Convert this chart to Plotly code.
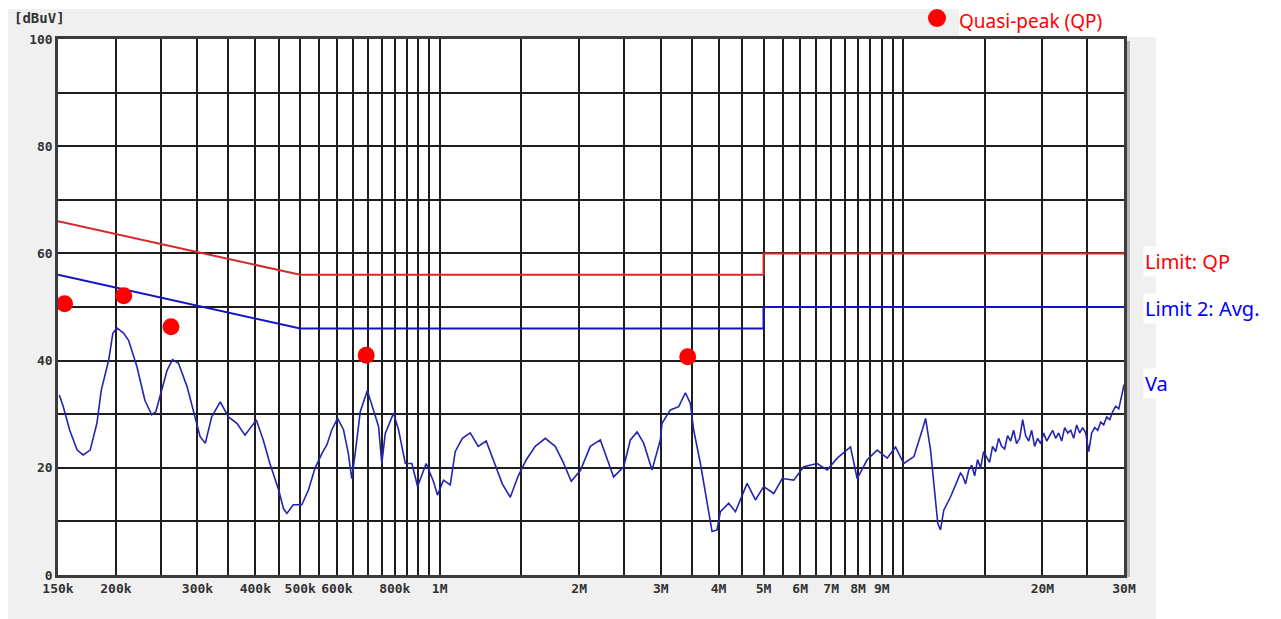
import math
import plotly.graph_objects as go

# ---------------- data (frequencies in MHz, levels in dBuV) ----------------
va_freq = [0.151, 0.154, 0.159, 0.165, 0.170, 0.176, 0.182, 0.186, 0.193, 0.197,
           0.201, 0.208, 0.213, 0.222, 0.231, 0.239, 0.244, 0.251, 0.258, 0.265,
           0.273, 0.285, 0.296, 0.304, 0.312, 0.322, 0.336, 0.350, 0.365, 0.380,
           0.390, 0.402, 0.416, 0.430, 0.449, 0.460, 0.468, 0.483, 0.504, 0.521,
           0.538, 0.557, 0.571, 0.585, 0.602, 0.620, 0.635, 0.646, 0.657, 0.674,
           0.698, 0.720, 0.738, 0.750, 0.763, 0.795, 0.815, 0.843, 0.871, 0.896,
           0.935, 0.970, 0.989, 1.019, 1.054, 1.080, 1.119, 1.164, 1.211, 1.260,
           1.311, 1.365, 1.420, 1.478, 1.538, 1.608, 1.690, 1.776, 1.848, 1.923,
           2.012, 2.114, 2.222, 2.374, 2.495, 2.580, 2.667, 2.756, 2.873, 2.994,
           3.019, 3.147, 3.280, 3.391, 3.476, 3.533, 3.654, 3.777, 3.872, 3.969,
           4.035, 4.206, 4.349, 4.609, 4.803, 5.005, 5.261, 5.487, 5.811, 6.108,
           6.529, 6.862, 7.212, 7.704, 7.964, 8.370, 8.798, 9.245, 9.638, 10.04,
           10.56, 11.01, 11.19, 11.47, 11.66, 11.89, 12.05, 12.25, 12.67, 13.31,
           13.45, 13.65, 13.86, 14.07, 14.28, 14.49, 14.71, 14.93, 15.16, 15.38,
           15.61, 15.85, 16.09, 16.33, 16.57, 16.82, 17.08, 17.33, 17.59, 17.86,
           18.13, 18.40, 18.68, 18.96, 19.24, 19.53, 19.83, 20.12, 20.43, 20.73,
           21.04, 21.36, 21.68, 22.01, 22.34, 22.68, 23.02, 23.36, 23.71, 24.07,
           24.43, 24.80, 25.17, 25.55, 25.94, 26.33, 26.72, 27.12, 27.53, 27.95,
           28.37, 28.79, 29.23, 29.67, 30.0]
va_level = [33.6, 31.4, 27.0, 23.3, 22.4, 23.3, 28.3, 34.5, 40.1, 45.1,
            46.1, 45.1, 43.8, 38.9, 32.6, 29.9, 30.5, 34.5, 38.2, 40.2,
            39.5, 35.1, 29.5, 25.8, 24.6, 29.5, 32.3, 29.5, 28.3, 26.1,
            27.4, 28.9, 25.2, 20.8, 15.9, 12.4, 11.5, 13.1, 13.1, 15.9,
            19.9, 22.7, 24.3, 27.1, 29.2, 27.1, 22.7, 18.0, 22.7, 30.5,
            34.4, 30.8, 27.7, 20.8, 26.4, 30.2, 27.1, 20.8, 20.8, 16.5,
            20.8, 17.4, 14.9, 17.7, 16.8, 23.0, 25.5, 26.5, 24.0, 25.0,
            21.0, 17.0, 14.5, 18.5, 21.5, 24.0, 25.5, 24.0, 21.0, 17.5,
            19.5, 24.0, 25.2, 18.3, 20.2, 25.2, 26.7, 24.6, 19.6, 25.2,
            28.3, 30.8, 31.4, 34.0, 32.0, 27.1, 20.8, 13.4, 8.1, 8.4,
            11.8, 13.4, 11.8, 17.1, 14.0, 16.5, 15.2, 18.0, 17.7, 20.2,
            20.8, 19.6, 21.8, 23.9, 18.0, 21.5, 23.3, 21.8, 23.9, 20.8,
            22.1, 27.1, 29.2, 23.3, 16.5, 9.6, 8.4, 12.1, 14.6, 19.0,
            18.5, 17.0, 19.5, 20.5, 18.5, 21.5, 20.0, 23.0, 22.0, 21.0,
            24.0, 23.0, 25.5, 24.0, 23.5, 26.0, 25.0, 27.0, 24.5, 25.5,
            29.0, 26.0, 25.0, 27.0, 24.0, 25.5, 24.5, 26.5, 25.0, 26.0,
            27.0, 25.5, 26.5, 25.0, 27.5, 26.5, 27.0, 25.5, 28.0, 26.5,
            27.5, 26.5, 23.0, 26.5, 27.5, 27.0, 28.5, 28.0, 29.5, 29.0,
            30.5, 31.5, 31.0, 33.5, 35.5]

qp_limit_freq = [0.15, 0.5, 0.5, 5.0, 5.0, 30.0]
qp_limit_level = [66, 56, 56, 56, 60, 60]
avg_limit_freq = [0.15, 0.5, 0.5, 5.0, 5.0, 30.0]
avg_limit_level = [56, 46, 46, 46, 50, 50]

qp_freq = [0.155, 0.208, 0.263, 0.694, 3.43]
qp_level = [50.6, 52.1, 46.3, 41.0, 40.7]

x_grid = [0.15, 0.2, 0.25, 0.3, 0.35, 0.4, 0.45, 0.5, 0.55, 0.6, 0.65, 0.7,
          0.75, 0.8, 0.85, 0.9, 0.95, 1.0, 1.5, 2.0, 2.5, 3.0, 3.5, 4.0, 4.5,
          5.0, 5.5, 6.0, 6.5, 7.0, 7.5, 8.0, 8.5, 9.0, 9.5, 10.0, 15.0, 20.0,
          25.0, 30.0]
x_labels = {0.15: "150k", 0.2: "200k", 0.3: "300k", 0.4: "400k", 0.5: "500k",
            0.6: "600k", 0.8: "800k", 1.0: "1M", 2.0: "2M", 3.0: "3M", 4.0: "4M",
            5.0: "5M", 6.0: "6M", 7.0: "7M", 8.0: "8M", 9.0: "9M", 20.0: "20M",
            30.0: "30M"}
y_grid = [0, 10, 20, 30, 40, 50, 60, 70, 80, 90, 100]
y_labels = {0: "0", 20: "20", 40: "40", 60: "60", 80: "80", 100: "100"}

# ---------------- layout geometry (page has an 8px body margin) ----------------
OFF = 8
W, H = 1281 - OFF, 619 - OFF
L, R, T, B = 58, 1124, 39, 575          # plot area in screen pixels
pw, ph = R - L, B - T


def px(x):
    return (x - L) / pw


def py(y):
    return (B - y) / ph


fig = go.Figure()
fig.add_trace(go.Scatter(x=qp_limit_freq, y=qp_limit_level, mode="lines",
                         line=dict(color="#d42a2a", width=2), hoverinfo="skip"))
fig.add_trace(go.Scatter(x=avg_limit_freq, y=avg_limit_level, mode="lines",
                         line=dict(color="#1414c4", width=2), hoverinfo="skip"))
fig.add_trace(go.Scatter(x=va_freq, y=va_level, mode="lines",
                         line=dict(color="#2424b0", width=1.6)))
fig.add_trace(go.Scatter(x=qp_freq, y=qp_level, mode="markers",
                         marker=dict(color="#ff0000", size=17, line=dict(width=0))))

tick_font = dict(family="DejaVu Sans Mono", size=13, color="#333333", weight="bold")

fig.update_xaxes(type="log", range=[math.log10(0.15), math.log10(30)],
                 tickmode="array", tickvals=x_grid,
                 ticktext=[x_labels.get(v, "") for v in x_grid],
                 showgrid=True, gridcolor="#1e1e1e", gridwidth=1.5,
                 showline=True, linecolor="#3c3c3c", linewidth=2.5, mirror=True,
                 ticks="", tickfont=tick_font, zeroline=False)
fig.update_yaxes(range=[0, 100], tickmode="array", tickvals=y_grid,
                 ticktext=[y_labels.get(v, "") for v in y_grid],
                 showgrid=True, gridcolor="#1e1e1e", gridwidth=1.5,
                 showline=True, linecolor="#3c3c3c", linewidth=2.5, mirror=True,
                 ticks="", tickfont=tick_font, zeroline=False)

shapes = [
    dict(type="rect", xref="paper", yref="paper", layer="below",
         x0=px(6), x1=px(1156), y0=py(619), y1=py(9),
         fillcolor="#f0f0f0", line=dict(width=0)),
    dict(type="rect", xref="paper", yref="paper", layer="below",
         x0=px(959), x1=px(1290), y0=py(37), y1=py(0),
         fillcolor="#ffffff", line=dict(width=0)),
    dict(type="rect", xref="paper", yref="paper", layer="below",
         x0=0, x1=1, y0=0, y1=1, fillcolor="#ffffff", line=dict(width=0)),
    dict(type="rect", xref="paper", yref="paper", layer="below",
         x0=px(1126), x1=px(1130), y0=py(577), y1=py(41),
         fillcolor="#b4b4b4", line=dict(width=0)),
    # legend glyph for the quasi-peak markers
    dict(type="circle", xref="paper", yref="paper", layer="above",
         x0=px(928), x1=px(946), y0=py(27), y1=py(9),
         fillcolor="#ff0000", line=dict(width=0)),
]

annotations = [
    dict(text="[dBuV]", xref="paper", yref="paper", x=px(12), y=py(18),
         xanchor="left", yanchor="middle", showarrow=False,
         font=dict(family="DejaVu Sans Mono", size=14, color="#333333", weight="bold")),
    dict(text="Quasi-peak (QP)", xref="paper", yref="paper",
         x=px(958), y=py(21), xanchor="left", yanchor="middle", showarrow=False,
         borderpad=0,
         font=dict(family="Noto Sans", size=19, color="#ff0000")),
    dict(text="Limit: QP", xref="paper", yref="paper", x=px(1143), y=py(261),
         xanchor="left", yanchor="middle", showarrow=False, bgcolor="#ffffff",
         font=dict(family="Noto Sans", size=20, color="#ff0000")),
    dict(text="Limit 2: Avg.", xref="paper", yref="paper", x=px(1143), y=py(308),
         xanchor="left", yanchor="middle", showarrow=False, bgcolor="#ffffff",
         font=dict(family="Noto Sans", size=20, color="#0000ff")),
    dict(text="Va", xref="paper", yref="paper", x=px(1143), y=py(383),
         xanchor="left", yanchor="middle", showarrow=False, bgcolor="#ffffff",
         font=dict(family="Noto Sans", size=20, color="#0000ff")),
]

fig.update_layout(width=W, height=H, autosize=False,
                  margin=dict(l=L - OFF, r=W - (R - OFF), t=T - OFF, b=H - (B - OFF), pad=0),
                  paper_bgcolor="#ffffff", plot_bgcolor="#ffffff",
                  showlegend=False, shapes=shapes, annotations=annotations)

fig.write_html("out.html")
